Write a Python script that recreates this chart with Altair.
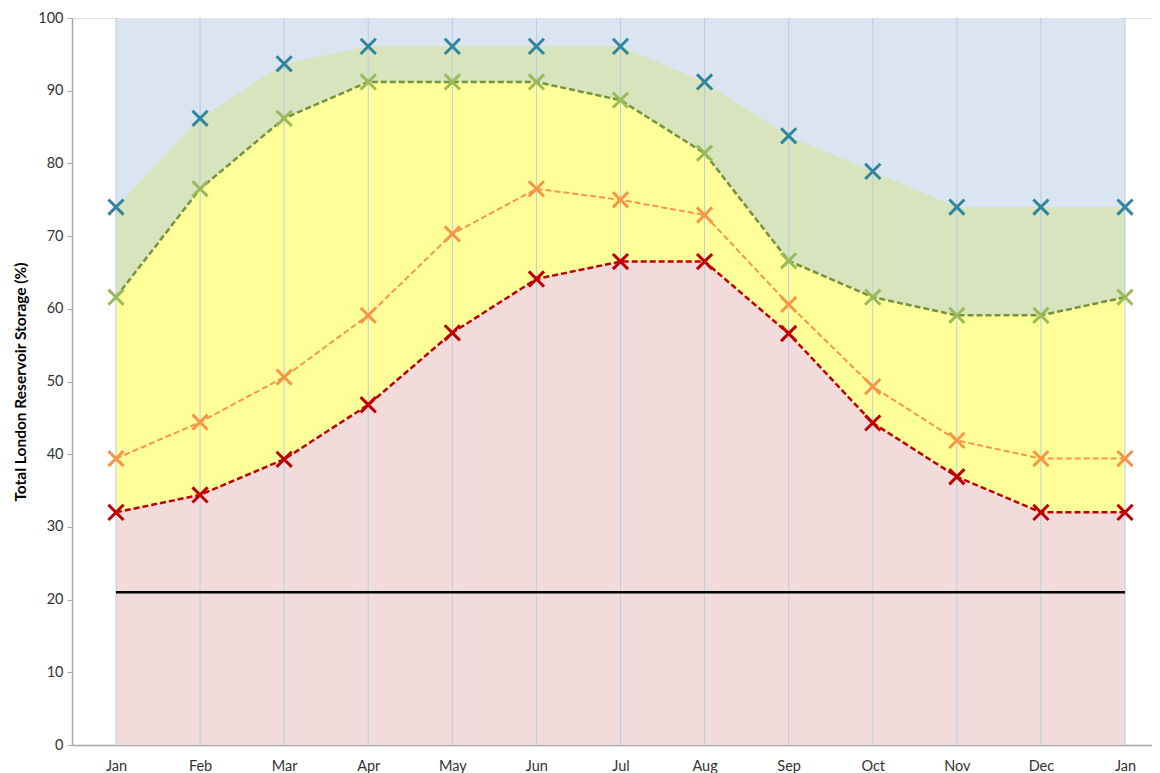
import json
import altair as alt
import pandas as pd

months = ["Jan", "Feb", "Mar", "Apr", "May", "Jun", "Jul", "Aug", "Sep", "Oct", "Nov", "Dec", "Jan"]
blue = [74.0, 86.2, 93.7, 96.1, 96.1, 96.1, 96.1, 91.2, 83.8, 78.9, 74.0, 74.0, 74.0]
green = [61.6, 76.5, 86.2, 91.2, 91.2, 91.2, 88.7, 81.4, 66.6, 61.6, 59.1, 59.1, 61.6]
orange = [39.4, 44.4, 50.6, 59.1, 70.3, 76.5, 75.0, 72.9, 60.6, 49.3, 41.9, 39.4, 39.4]
red = [32.0, 34.4, 39.3, 46.8, 56.7, 64.1, 66.5, 66.5, 56.6, 44.3, 36.9, 32.0, 32.0]
threshold = 21
y_max = 100

df = pd.DataFrame({
    "x": list(range(len(months))),
    "month": months,
    "blue": blue,
    "green": green,
    "orange": orange,
    "red": red,
})

FONT = "Lato"
label_expr = json.dumps(months) + "[datum.value]"

xscale = alt.Scale(domain=[-0.523, 12.321], nice=False, zero=False)
yscale = alt.Scale(domain=[0, y_max], nice=False)

x_enc = alt.X(
    "x:Q",
    scale=xscale,
    axis=alt.Axis(
        values=list(range(len(months))),
        labelExpr=label_expr,
        ticks=False,
        grid=False,
        title=None,
        labelFontSize=14.5,
        labelColor="#333333",
        labelFont=FONT,
        labelPadding=14,
        domainColor="#A6A6A6",
        domainWidth=1.5,
    ),
)

y_axis = alt.Axis(
    values=list(range(0, 101, 10)),
    grid=False,
    title="Total London Reservoir Storage (%)",
    titleFont=FONT,
    titleFontSize=15.5,
    titleFontWeight="bold",
    titleColor="#000000",
    titlePadding=9,
    labelFontSize=14.5,
    labelFont=FONT,
    labelColor="#333333",
    labelPadding=4,
    tickSize=5,
    tickColor="#A6A6A6",
    domainColor="#A6A6A6",
    domainWidth=1.5,
)

base = alt.Chart(df)

bg = base.mark_area(color="#DBE5F1", opacity=1).encode(
    x=x_enc, y=alt.Y("top:Q", scale=yscale, axis=y_axis), y2=alt.datum(0)
).transform_calculate(top=str(y_max))

green_area = base.mark_area(color="#D7E4BD", opacity=1).encode(
    x="x:Q", y=alt.Y("blue:Q", scale=yscale), y2=alt.datum(0)
)
yellow_area = base.mark_area(color="#FFFF99", opacity=1).encode(
    x="x:Q", y=alt.Y("green:Q", scale=yscale), y2=alt.datum(0)
)
pink_area = base.mark_area(color="#F2DCDB", opacity=1).encode(
    x="x:Q", y=alt.Y("red:Q", scale=yscale), y2=alt.datum(0)
)

grid = base.mark_rule(color="#B9CDE5", strokeWidth=1).encode(
    x="x:Q", y=alt.datum(0), y2=alt.datum(y_max)
)

thresh = base.mark_line(color="#000000", strokeWidth=2.5).encode(
    x="x:Q", y=alt.datum(threshold)
)

XPATH = "M-1,-1L1,1M-1,1L1,-1"


def dashed(field, color, dash, width):
    return base.mark_line(color=color, strokeDash=dash, strokeWidth=width).encode(
        x="x:Q", y=alt.Y(f"{field}:Q", scale=yscale)
    )


def markers(field, color):
    return base.mark_point(
        shape=XPATH, filled=False, color=color, strokeWidth=3, size=230, opacity=1
    ).encode(x="x:Q", y=alt.Y(f"{field}:Q", scale=yscale))


chart = alt.layer(
    bg,
    green_area,
    yellow_area,
    pink_area,
    grid,
    thresh,
    dashed("green", "#76923C", [6, 3], 2.5),
    dashed("orange", "#F79646", [6, 3], 2),
    dashed("red", "#C00000", [6, 3], 2.5),
    markers("blue", "#31859C"),
    markers("green", "#9BBB59"),
    markers("orange", "#F79646"),
    markers("red", "#C00000"),
).properties(
    width=1080,
    height=727,
    autosize=alt.AutoSizeParams(type="none"),
    padding={"left": 64, "top": 10, "right": 0, "bottom": 32},
).configure_view(stroke=None).configure(background="#FFFFFF")

chart.save("out.html", embed_options={"renderer": "svg", "actions": False})
